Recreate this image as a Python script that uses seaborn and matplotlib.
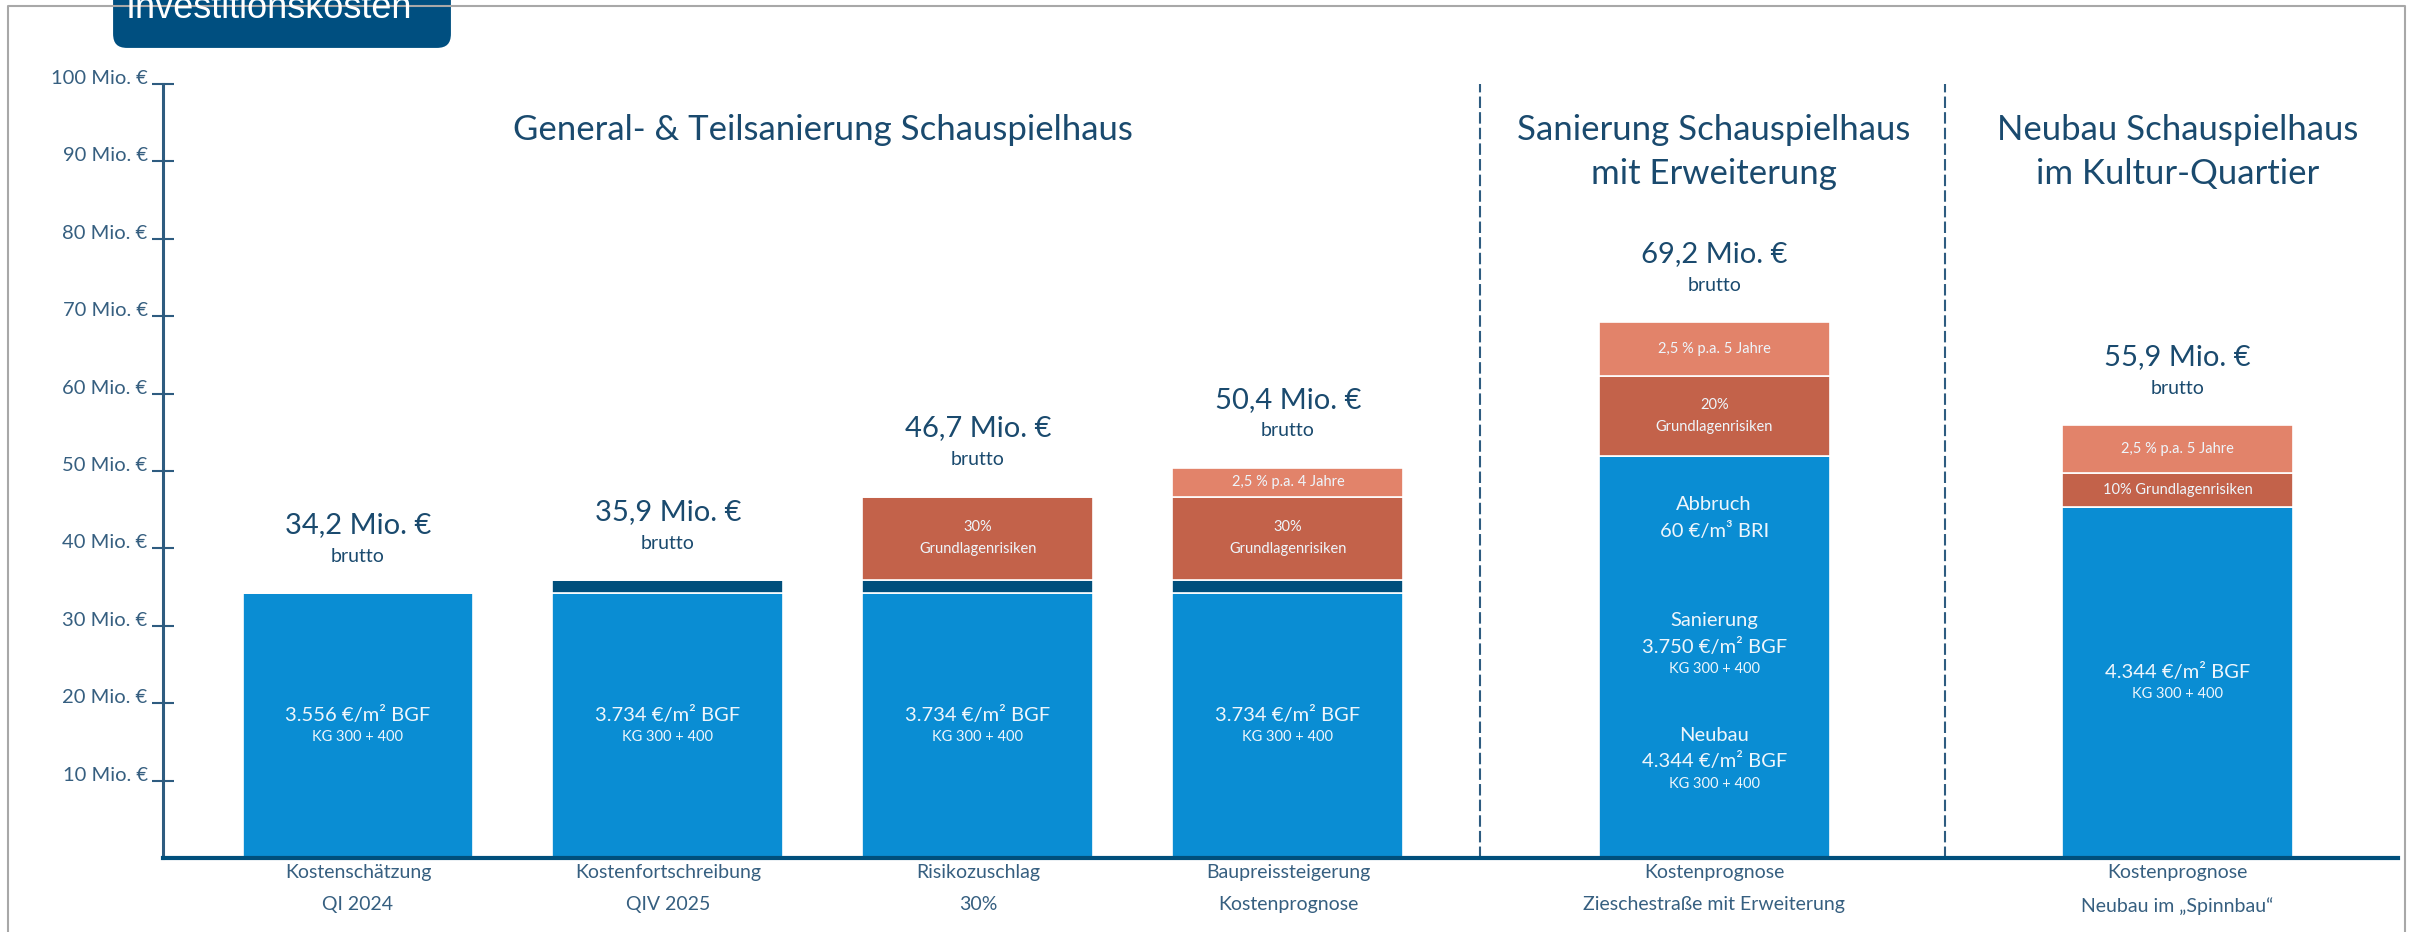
import numpy as np
import seaborn as sns
import matplotlib.pyplot as plt
from matplotlib.lines import Line2D
from matplotlib.patches import FancyBboxPatch
from matplotlib.transforms import IdentityTransform

# Investitionskosten Schauspielhaus - stacked cost bars

# bar positions (uneven spacing between the three groups)
x_pos = [0, 1, 2, 3, 4.375, 5.87]

# stacked segments in Mio. €
basis = [34.2, 34.2, 34.2, 34.2, 51.9, 45.3]
fortschreibung = [0, 1.7, 1.7, 1.7, 0, 0]
risiko = [0, 0, 10.8, 10.8, 10.4, 4.5]
preis = [0, 0, 0, 3.7, 6.9, 6.1]

x_labels = ["Kostenschätzung\nQI 2024",
            "Kostenfortschreibung\nQIV 2025",
            "Risikozuschlag\n30%",
            "Baupreissteigerung\nKostenprognose",
            "Kostenprognose\nZieschestraße mit Erweiterung",
            "Kostenprognose\nNeubau im „Spinnbau“"]

y_ticks = [10, 20, 30, 40, 50, 60, 70, 80, 90, 100]

base_labels = ["3.556 €/m² BGF", "3.734 €/m² BGF", "3.734 €/m² BGF",
               "3.734 €/m² BGF", "", "4.344 €/m² BGF"]
risk_labels = [[], [], ["30%", "Grundlagenrisiken"], ["30%", "Grundlagenrisiken"],
               ["20%", "Grundlagenrisiken"], ["10% Grundlagenrisiken"]]
price_labels = ["", "", "", "2,5 % p.a. 4 Jahre", "2,5 % p.a. 5 Jahre", "2,5 % p.a. 5 Jahre"]

# text block inside the big bar (text, y in Mio. €, size)
bar5_text = [("Abbruch", 45.7, 14.5), ("60 €/m³ BRI", 42.2, 14.5),
             ("Sanierung", 30.7, 14.5), ("3.750 €/m² BGF", 27.3, 14.5), ("KG 300 + 400", 24.4, 10.5),
             ("Neubau", 15.8, 14.5), ("4.344 €/m² BGF", 12.5, 14.5), ("KG 300 + 400", 9.6, 10.5)]

groups = [("General- & Teilsanierung Schauspielhaus", 1.5),
          ("Sanierung Schauspielhaus\nmit Erweiterung", 4.375),
          ("Neubau Schauspielhaus\nim Kultur-Quartier", 5.87)]
dividers = [3.62, 5.12]

# colours
c_blue = "#0A8DD3"
c_navy = "#004F7C"
c_red = "#C3624A"
c_orange = "#E2836A"
c_text = "#1A4A6E"
c_tick = "#365F80"
c_axis = "#2E5C80"
c_frame = "#A8A8A8"
c_box = "#004F80"

sns.set_theme(style="white")
plt.rcParams['font.family'] = ['Lato', 'DejaVu Sans']

W, H = 2418, 932
fig = plt.figure(figsize=(W / 100, H / 100), dpi=100)
ax = fig.add_axes([163 / W, 74 / H, (2398 - 163) / W, (858 - 84) / H])

bottom = np.zeros(len(x_pos))
for vals, col in [(basis, c_blue), (fortschreibung, c_navy), (risiko, c_red), (preis, c_orange)]:
    sns.barplot(x=x_pos, y=vals, native_scale=True, orient="x", width=0.745,
                color=col, saturation=1, errorbar=None, bottom=bottom.copy(),
                edgecolor="white", linewidth=1.2, ax=ax)
    bottom += np.array(vals)
totals = bottom

ax.set_xlim(-0.629, 6.581)
ax.set_ylim(0, 100)
ax.set_yticks(y_ticks)
ax.set_yticklabels([f"{v} Mio. €" for v in y_ticks], va="baseline")
ax.set_xticks(x_pos)
ax.set_xticklabels(x_labels, linespacing=2.1)

ax.tick_params(axis="y", left=True, direction="inout", length=16, width=1.5, color=c_axis,
               labelsize=14.5, labelcolor=c_tick, pad=3)
ax.tick_params(axis="x", bottom=False, length=0, labelsize=14, labelcolor=c_tick, pad=4)
ax.spines["top"].set_visible(False)
ax.spines["right"].set_visible(False)
ax.spines["left"].set_color(c_axis)
ax.spines["left"].set_linewidth(2.2)
ax.spines["bottom"].set_color(c_navy)
ax.spines["bottom"].set_linewidth(3)
ax.grid(False)

for d in dividers:
    ax.axvline(d, ymin=0, ymax=1, color=c_axis, lw=1.5, ls=(0, (5.5, 2)))


def label(x, y, text, dy, size, color="#EEF6FC"):
    ax.annotate(text, (x, y), xytext=(0, dy), textcoords="offset pixels",
                ha="center", va="center", fontsize=size, color=color)


# totals above the bars
for x, t in zip(x_pos, totals):
    label(x, t, f"{t:.1f}".replace(".", ",") + " Mio. €", 68, 21, c_text)
    label(x, t, "brutto", 37, 14, c_text)

# labels inside the segments
for i, x in enumerate(x_pos):
    if base_labels[i]:
        label(x, basis[i] / 2, base_labels[i], 11, 14.5)
        label(x, basis[i] / 2, "KG 300 + 400", -11, 10.5)
    lo = basis[i] + fortschreibung[i]
    lines = risk_labels[i]
    if len(lines) == 2:
        label(x, lo + risiko[i] / 2, lines[0], 11, 10.5)
        label(x, lo + risiko[i] / 2, lines[1], -11, 10.5)
    elif len(lines) == 1:
        label(x, lo + risiko[i] / 2, lines[0], 0, 10.5)
    if price_labels[i]:
        label(x, lo + risiko[i] + preis[i] / 2, price_labels[i], 0, 10.5)

for text, y, size in bar5_text:
    label(x_pos[4], y, text, 0, size)

# group headings
for text, x in groups:
    for k, line in enumerate(text.split("\n")):
        ax.text(x, 94.0 - k * 5.6, line, ha="center", va="center", fontsize=25, color=c_text)

# slide frame and heading box
fig.add_artist(Line2D([8 / W, 8 / W, 2405 / W, 2405 / W], [0, 1 - 6 / H, 1 - 6 / H, 0],
                      transform=fig.transFigure, color=c_frame, lw=1.5))
box = FancyBboxPatch((111, H - 50), 342, 80, boxstyle="round,pad=0,rounding_size=16",
                     transform=IdentityTransform(), facecolor=c_box, edgecolor="white", lw=3)
fig.add_artist(box)
fig.text(126 / W, 1 - 18 / H, "Investitionskosten", fontsize=26, color="white",
         family=["Liberation Sans", "DejaVu Sans"], ha="left", va="baseline")

fig.savefig("out.png", dpi=100)
